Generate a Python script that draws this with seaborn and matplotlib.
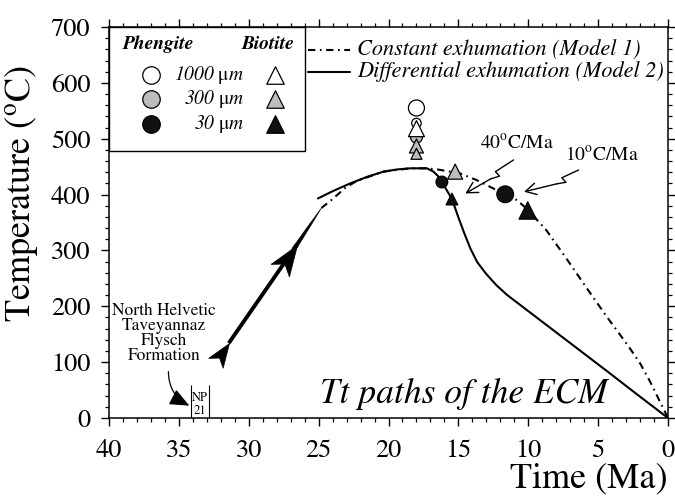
import matplotlib
matplotlib.use("Agg")
import numpy as np
import pandas as pd
import matplotlib.pyplot as plt
import seaborn as sns
from matplotlib.path import Path
from matplotlib.markers import MarkerStyle
from matplotlib.transforms import Affine2D
from matplotlib.patches import Rectangle
from matplotlib.ticker import MultipleLocator

# ---------------- data ----------------
# Model 1: constant exhumation (time in Ma, temperature in degC)
model1_time = [24.8, 24.0, 23.1, 22.3, 20.4, 18.45, 17.25, 16.5, 14.9, 13.7,
               12.5, 11.65, 10.8, 10.0, 8.7, 7.2, 5.8, 4.4, 2.9, 2.0, 1.3, 0.0]
model1_temp = [376, 392, 412, 424, 441, 447, 447, 445, 438, 426,
               411, 400, 390, 372, 336, 283, 232, 182, 131, 98, 66, 0]

# Model 2: differential exhumation
model2_time = [25.05, 24.0, 22.74, 21.5, 20.36, 19.4, 18.45, 17.25, 16.78, 16.45,
               16.18, 15.46, 15.01, 14.58, 14.15, 13.65, 13.01, 12.29, 11.5,
               9.14, 6.78, 4.37, 2.2, 0.0]
model2_temp = [393, 406, 420, 432, 441, 445, 447, 447, 441, 433,
               422.5, 392, 360, 331, 304, 279, 258, 238, 220,
               175, 130, 84, 42, 0]

# closure temperatures (phengite = circles, biotite = triangles)
phengite_time = [18.0, 18.0, 18.0, 16.18, 11.65]
phengite_temp = [555, 528, 503, 422.5, 400.5]
phengite_grain = ["1000", "1000", "300", "30", "30"]

biotite_time = [18.0, 18.0, 18.0, 15.46, 15.23, 10.04]
biotite_temp = [518, 487, 473, 392, 441, 371.5]
biotite_grain = ["1000", "300", "300", "30", "300", "30"]

grain_sizes = ["1000", "300", "30"]
x_ticks = [40, 35, 30, 25, 20, 15, 10, 5, 0]
y_ticks = [0, 100, 200, 300, 400, 500, 600, 700]

# ---------------- styling ----------------
grain_colors = {"1000": "white", "300": "#bdbdbd", "30": "#111111"}
phengite_px = [16, 9.5, 12, 11.7, 16.7]      # marker diameters (pixels)
biotite_px = [16, 14, 11, 11.7, 15, 17.3]
DPI = 100
px2pt = 72.0 / DPI

sns.set_theme(style="ticks")
plt.rcParams.update({
    "font.family": ["STIXGeneral", "DejaVu Serif"],
    "mathtext.fontset": "stix",
    "text.color": "black",
    "axes.labelcolor": "black",
    "axes.edgecolor": "black",
    "xtick.color": "black",
    "ytick.color": "black",
    "lines.scale_dashes": True,
})

fig = plt.figure(figsize=(6.75, 4.97), dpi=DPI)
ax = fig.add_axes([109 / 675, 1 - 418 / 497, 559 / 675, 391 / 497])
ax.set_facecolor("white")

dashdot = (0, (3.5, 2.2, 0.8, 2.2))

# ---------------- Tt paths ----------------
m1 = pd.DataFrame({"time": model1_time, "temp": model1_temp})
sns.lineplot(data=m1, x="time", y="temp", estimator=None, sort=False,
             color="black", lw=1.5, ax=ax)
ax.lines[-1].set_linestyle(dashdot)

m2 = pd.DataFrame({"time": model2_time, "temp": model2_temp})
sns.lineplot(data=m2, x="time", y="temp", estimator=None, sort=False,
             color="black", lw=1.5, ax=ax)

# ---------------- closure temperatures ----------------
phen = pd.DataFrame({"time": phengite_time, "temp": phengite_temp, "grain": phengite_grain})
sns.scatterplot(data=phen, x="time", y="temp", hue="grain", palette=grain_colors,
                s=[(d * px2pt) ** 2 for d in phengite_px], marker="o",
                edgecolor="black", linewidth=0.9, legend=False, zorder=3, ax=ax)
bio = pd.DataFrame({"time": biotite_time, "temp": biotite_temp, "grain": biotite_grain})
sns.scatterplot(data=bio, x="time", y="temp", hue="grain", palette=grain_colors,
                s=[(d * px2pt) ** 2 for d in biotite_px], marker="^",
                edgecolor="black", linewidth=0.9, legend=False, zorder=3, ax=ax)

# ---------------- axes ----------------
ax.set_xlim(40, 0)
ax.set_ylim(0, 700)
ax.set_xticks(x_ticks)
ax.set_yticks(y_ticks)
ax.xaxis.set_minor_locator(MultipleLocator(1))
ax.yaxis.set_minor_locator(MultipleLocator(20))
for sp in ax.spines.values():
    sp.set_linewidth(1.1)
    sp.set_color("black")
ax.tick_params(which="major", direction="out", length=5.5, width=1.0,
               top=True, right=True, labelsize=19, pad=8)
ax.tick_params(which="minor", direction="out", length=3.1, width=0.9,
               top=True, right=True)
ax.tick_params(axis="x", which="major", pad=9.5)

ax.set_xlabel("Time (Ma)", fontsize=26, loc="right")
ax.xaxis.set_label_coords(1.0, -0.114)
ax.set_ylabel(r"Temperature ($^{\mathrm{o}}$C)", fontsize=26)
ax.yaxis.set_label_coords(-0.123, 0.575)

# ---------------- prograde arrow ----------------
arrow_tail = (31.43, 134)
arrow_mid = (26.56, 310)
arrow_tip = (24.8, 376)
p0 = ax.transData.transform(arrow_tail)
p1 = ax.transData.transform(arrow_tip)
angle = np.degrees(np.arctan2(p1[1] - p0[1], p1[0] - p0[0]))
head = Path([(0, 0), (-1.7, 0.62), (-1.25, 0), (-1.7, -0.62), (0, 0)],
            [Path.MOVETO, Path.LINETO, Path.LINETO, Path.LINETO, Path.CLOSEPOLY])
head_marker = MarkerStyle(head, transform=Affine2D().rotate_deg(angle))
ax.plot([arrow_tail[0], arrow_mid[0]], [arrow_tail[1], arrow_mid[1]],
        color="black", lw=2.8, solid_capstyle="butt", zorder=3)
ax.plot([arrow_tail[0]], [arrow_tail[1]], marker=head_marker, ms=48 * px2pt,
        color="black", mec="black", mew=0.5, ls="none", zorder=3)
ax.plot([arrow_mid[0]], [arrow_mid[1]], marker=head_marker, ms=61 * px2pt,
        color="black", mec="black", mew=0.5, ls="none", zorder=3)
ax.annotate("", xy=arrow_tip, xytext=(26.75, 303),
            arrowprops=dict(arrowstyle="wedge,tail_width=0.28,shrink_factor=0.6",
                            mutation_scale=10, fc="black", ec="black", lw=0.4,
                            shrinkA=0, shrinkB=0), zorder=3)

# ---------------- cooling-rate call-outs ----------------
ax.text(10.81, 493, r"40$^{\mathrm{o}}$C/Ma", fontsize=14, ha="center", va="center")
ax.text(4.72, 470, r"10$^{\mathrm{o}}$C/Ma", fontsize=14, ha="center", va="center")
bolt1_t = [11.05, 12.35, 12.05, 12.7]
bolt1_T = [462, 441, 433, 428]
bolt2_t = [6.4, 7.6, 7.3, 8.0]
bolt2_T = [444, 430, 422, 419]
for bt, bT, tip in [(bolt1_t, bolt1_T, (14.5, 402)), (bolt2_t, bolt2_T, (10.3, 405))]:
    ax.plot(bt, bT, color="black", lw=1.0, solid_joinstyle="round", zorder=3)
    ax.annotate("", xy=tip, xytext=(bt[-1], bT[-1]),
                arrowprops=dict(arrowstyle="->,head_length=0.55,head_width=0.3",
                                mutation_scale=14, color="black", lw=1.0,
                                shrinkA=0, shrinkB=0), zorder=3)

# ---------------- stratigraphic constraint ----------------
ax.text(36.06, 152, "North Helvetic\nTaveyannaz\nFlysch\nFormation", fontsize=12.5,
        ha="center", va="center", multialignment="center", linespacing=0.92)
ax.annotate("", xy=(34.25, 22), xytext=(35.75, 83),
            arrowprops=dict(arrowstyle="-|>,head_length=0.75,head_width=0.32",
                            connectionstyle="arc3,rad=0.3", mutation_scale=16,
                            fc="black", ec="black", lw=0.9, shrinkA=0, shrinkB=0))
ax.vlines([34.14, 32.81], 0, 59, colors="black", lw=0.8)
ax.text(33.48, 36, "NP", fontsize=9, ha="center", va="center")
ax.text(33.48, 12, "21", fontsize=9, ha="center", va="center")

ax.text(14.58, 27, "Tt paths of the ECM", fontsize=25.5, style="italic",
        ha="center", va="baseline")

# ---------------- grain-size key ----------------
ax.add_patch(Rectangle((0, 0.683), 0.3506, 0.317, transform=ax.transAxes,
                       facecolor="white", edgecolor="black", lw=1.0, zorder=4,
                       clip_on=False))
ax.text(0.0882, 0.9565, "Phengite", transform=ax.transAxes, fontsize=14,
        fontweight="bold", style="italic", ha="center", va="center", zorder=5)
ax.text(0.285, 0.9565, "Biotite", transform=ax.transAxes, fontsize=14,
        fontweight="bold", style="italic", ha="center", va="center", zorder=5)
key_rows = [0.8772, 0.8151, 0.7512]
for g, yy in zip(grain_sizes, key_rows):
    ax.scatter([0.0746], [yy], transform=ax.transAxes, s=(17.5 * px2pt) ** 2,
               marker="o", facecolor=grain_colors[g], edgecolor="black",
               linewidth=0.9, zorder=5, clip_on=False)
    ax.scatter([0.297], [yy], transform=ax.transAxes, s=(17.5 * px2pt) ** 2,
               marker="^", facecolor=grain_colors[g], edgecolor="black",
               linewidth=0.9, zorder=5, clip_on=False)
    ax.text(0.2415, yy, g + r" $\mathrm{\mu}$m", transform=ax.transAxes,
            fontsize=14, style="italic", ha="right", va="center", zorder=5)

# ---------------- model key ----------------
model_rows = [0.9412, 0.8857]
ax.plot([0.3565, 0.4311], [model_rows[0]] * 2, transform=ax.transAxes,
        color="black", lw=1.5, ls=dashdot, clip_on=False)
ax.plot([0.3565, 0.4311], [model_rows[1]] * 2, transform=ax.transAxes,
        color="black", lw=1.5, clip_on=False)
ax.text(0.4431, model_rows[0], "Constant exhumation (Model 1)", transform=ax.transAxes,
        fontsize=16, style="italic", ha="left", va="center")
ax.text(0.4431, model_rows[1], "Differential exhumation (Model 2)", transform=ax.transAxes,
        fontsize=16, style="italic", ha="left", va="center")

fig.savefig("out.png", dpi=DPI)
